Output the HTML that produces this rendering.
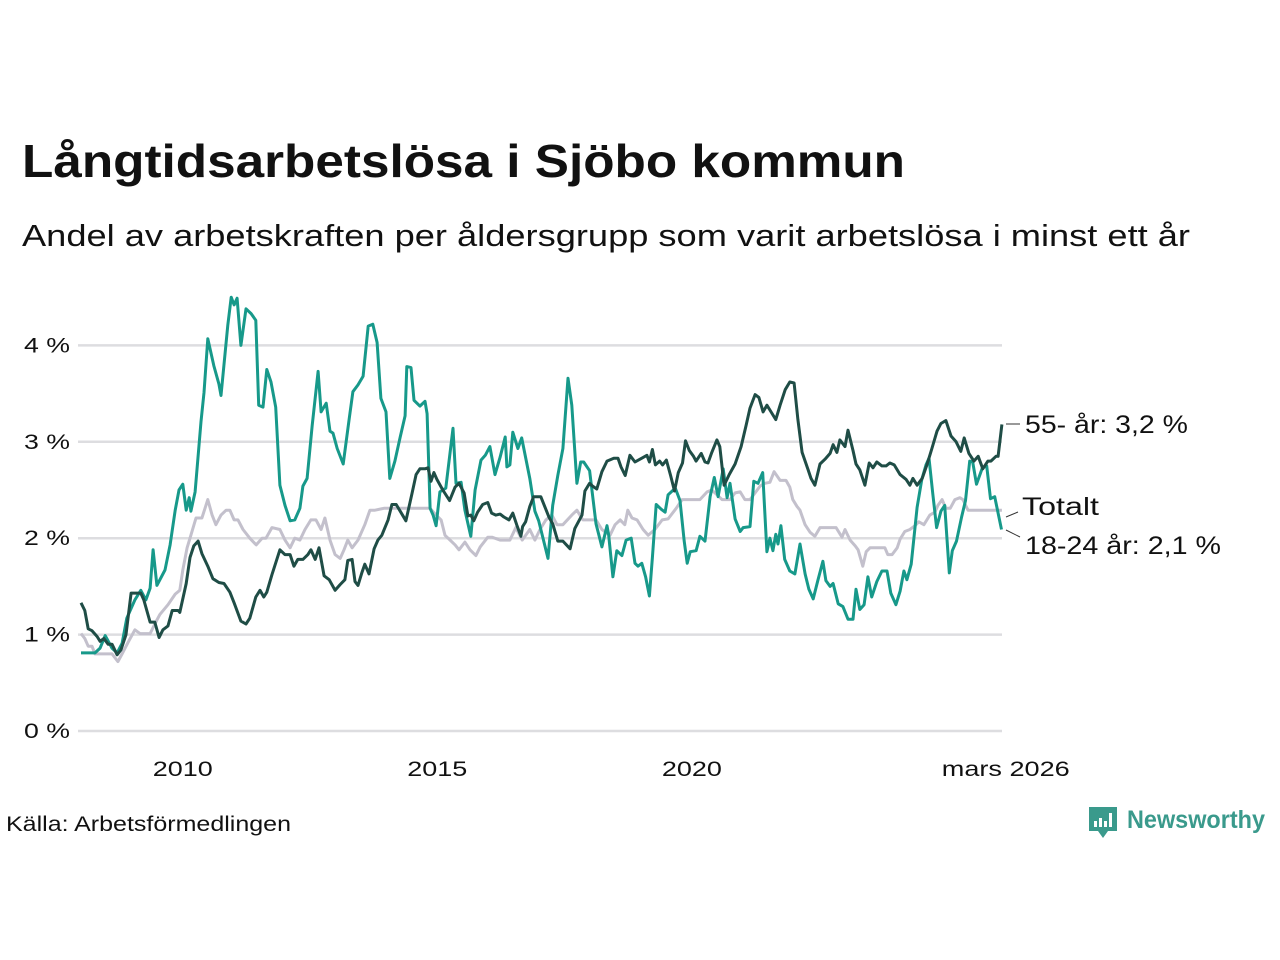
<!DOCTYPE html>
<html><head><meta charset="utf-8">
<style>
body{margin:0;background:#fff;width:1280px;height:960px;overflow:hidden;font-family:"Liberation Sans",sans-serif;}
svg{display:block}
</style></head>
<body>
<svg id="chart" width="1280" height="960" xmlns="http://www.w3.org/2000/svg">
<text x="22" y="177" font-size="46" font-weight="bold" fill="#111" textLength="883" lengthAdjust="spacingAndGlyphs">Långtidsarbetslösa i Sjöbo kommun</text>
<text x="22" y="246" font-size="31" fill="#111" textLength="1168" lengthAdjust="spacingAndGlyphs">Andel av arbetskraften per åldersgrupp som varit arbetslösa i minst ett år</text>
<g id="grid"></g>
<g id="ylabels"></g>
<g id="xlabels"></g>
<g id="lines"></g>
<g font-size="25" fill="#111">
<line x1="1006" y1="424" x2="1020" y2="424" stroke="#333" stroke-width="1"/>
<text x="1025" y="433" textLength="163" lengthAdjust="spacingAndGlyphs">55- år: 3,2 %</text>
<line x1="1006" y1="517" x2="1018" y2="512" stroke="#333" stroke-width="1"/>
<text x="1022" y="515" textLength="77" lengthAdjust="spacingAndGlyphs">Totalt</text>
<line x1="1006" y1="530" x2="1020" y2="537" stroke="#333" stroke-width="1"/>
<text x="1025" y="554" textLength="196" lengthAdjust="spacingAndGlyphs">18-24 år: 2,1 %</text>
</g>
<text x="6" y="831" font-size="21" fill="#111" textLength="285" lengthAdjust="spacingAndGlyphs">Källa: Arbetsförmedlingen</text>
<g>
<path d="M1089 807 h28 v24 h-9 l-5 7 l-5 -7 h-9 z" fill="#3a9a8c"/>
<rect x="1094" y="821" width="3" height="6" fill="#fff"/><rect x="1099" y="818" width="3" height="9" fill="#fff"/><rect x="1104" y="821" width="3" height="6" fill="#fff"/><rect x="1109" y="813" width="3" height="14" fill="#fff"/>
<text x="1127" y="828" font-size="25" font-weight="bold" fill="#3a9a8c" textLength="138" lengthAdjust="spacingAndGlyphs">Newsworthy</text>
</g>
</svg>
<script>
// months since Jan 2008, values in %
const youngMonths=[0,3.3,4.5,5.7,7.3,8.5,9.7,10.8,12.7,14.1,15.3,16.3,17.0,17.9,19.8,21.0,22.2,23.1,24.0,24.8,25.5,25.9,26.9,27.1,28.3,29.0,29.9,31.3,32.5,33.0,34.6,35.4,36.1,36.8,37.7,38.9,40.1,41.2,41.9,42.9,43.8,44.8,45.9,46.9,48.1,49.3,50.4,51.6,52.3,53.3,54.5,55.9,56.6,57.8,58.7,59.4,60.4,61.8,63.2,64.1,65.3,66.5,67.7,68.8,69.8,70.7,71.9,72.8,74.0,75.2,76.4,76.8,77.8,78.5,79.9,81.1,81.6,82.3,83.0,83.7,84.6,86.0,87.7,88.4,89.6,90.5,91.9,92.9,94.3,95.3,96.4,97.6,98.8,100.0,100.4,101.1,101.8,103.0,103.9,105.8,107.0,107.9,110.1,111.2,112.4,113.6,114.8,115.7,116.9,117.8,118.5,119.9,121.4,122.8,124.0,124.4,125.4,126.3,127.5,128.5,129.7,130.6,131.3,132.2,133.1,134.0,134.7,135.6,136.8,137.7,138.4,140.1,141.2,142.2,142.9,143.6,145.0,145.9,147.1,148.3,149.3,150.2,151.4,152.3,153.0,154.2,155.4,156.1,157.7,158.6,159.6,160.7,161.7,162.4,163.1,163.8,164.3,165.0,165.9,167.1,168.3,169.5,170.7,171.6,172.6,173.7,174.9,175.6,176.6,177.3,178.5,179.6,180.8,182.0,182.7,183.6,184.6,185.5,186.4,187.6,188.8,190.0,190.9,192.1,193.1,194.0,194.7,195.7,197.1,198.2,199.2,199.9,200.8,201.7,202.7,203.6,204.7,205.4,206.4,207.6,208.5,209.5,210.2,211.1,212.5,213.5,214.4,215.4,217.0];
const youngValues=[0.81,0.81,0.86,0.99,0.86,0.81,0.91,1.17,1.36,1.46,1.36,1.48,1.88,1.51,1.67,1.93,2.29,2.50,2.56,2.29,2.42,2.28,2.48,2.59,3.21,3.51,4.07,3.79,3.60,3.48,4.21,4.50,4.42,4.49,4.00,4.38,4.33,4.26,3.38,3.36,3.75,3.62,3.36,2.55,2.34,2.18,2.19,2.31,2.54,2.62,3.17,3.73,3.31,3.40,3.11,3.09,2.93,2.77,3.23,3.52,3.59,3.68,4.20,4.22,4.03,3.45,3.31,2.62,2.80,3.04,3.27,3.78,3.77,3.43,3.37,3.42,3.29,2.31,2.24,2.13,2.48,2.52,3.14,2.57,2.58,2.29,2.02,2.50,2.81,2.86,2.95,2.66,2.84,3.05,2.74,2.76,3.10,2.93,3.04,2.62,2.28,2.18,1.79,2.34,2.65,2.93,3.66,3.38,2.57,2.79,2.79,2.70,2.15,1.91,2.13,2.03,1.60,1.87,1.82,1.98,2.00,1.74,1.71,1.74,1.60,1.40,1.80,2.35,2.30,2.27,2.45,2.52,2.39,1.97,1.74,1.86,1.87,2.02,1.97,2.43,2.63,2.43,2.72,2.42,2.57,2.20,2.07,2.11,2.12,2.59,2.57,2.68,1.86,2.00,1.87,2.04,1.94,2.13,1.78,1.66,1.63,1.94,1.63,1.47,1.37,1.56,1.76,1.56,1.50,1.53,1.32,1.29,1.16,1.16,1.47,1.26,1.31,1.60,1.39,1.55,1.66,1.66,1.43,1.31,1.45,1.66,1.57,1.73,2.32,2.61,2.76,2.83,2.46,2.11,2.28,2.34,1.64,1.87,1.97,2.22,2.39,2.80,2.79,2.56,2.73,2.75,2.41,2.43,2.09];
const oldMonths=[0,0.9,1.7,2.6,3.8,4.5,5.4,6.4,7.3,8.5,9.4,10.6,11.8,12.7,14.1,14.8,16.3,17.4,18.4,19.3,20.5,21.5,22.9,23.3,24.8,25.7,26.6,27.6,28.5,29.9,31.1,32.5,33.7,35.1,36.1,37.7,38.9,39.8,41.2,42.2,43.1,43.8,45.0,46.9,48.1,49.3,50.2,51.1,52.3,53.5,54.2,55.2,56.1,57.3,58.5,59.9,61.1,62.2,62.9,63.9,64.6,65.3,66.2,66.9,67.9,69.1,70.0,70.9,72.4,73.3,74.3,75.4,76.6,78.0,79.0,79.9,81.1,81.8,82.5,83.2,83.9,85.3,86.9,88.2,89.1,90.3,91.2,91.9,92.6,93.5,94.7,95.9,96.8,97.8,98.8,99.7,100.9,101.8,102.7,103.7,104.1,104.8,105.8,106.7,108.4,109.3,110.3,111.2,112.4,113.6,115.3,116.4,118.1,118.8,119.9,120.6,121.6,122.8,124.0,125.6,126.6,127.3,128.3,129.4,130.6,132.2,133.4,134.0,134.7,135.4,136.4,137.1,138.0,139.0,139.9,140.8,141.8,142.5,143.4,144.4,145.0,146.2,147.1,147.8,148.7,149.9,150.6,151.6,152.8,154.2,155.6,156.8,157.7,158.9,159.8,160.8,161.7,162.4,163.8,164.8,166.0,167.1,168.1,169.0,170.0,171.4,172.1,173.0,174.2,175.4,176.6,177.3,178.2,178.9,180.1,180.8,182.0,182.7,183.6,184.8,185.8,186.7,187.6,188.8,189.8,190.7,191.7,193.1,194.5,195.4,196.1,197.1,198.3,199.4,200.6,201.8,202.7,203.9,205.1,206.3,207.4,208.2,209.3,210.5,211.5,212.6,213.8,214.5,215.7,216.2,217.1];
const oldValues=[1.33,1.25,1.06,1.04,0.98,0.93,0.96,0.90,0.90,0.79,0.84,1.00,1.43,1.43,1.43,1.36,1.13,1.13,0.97,1.05,1.09,1.25,1.25,1.23,1.53,1.80,1.92,1.97,1.84,1.71,1.58,1.54,1.53,1.44,1.33,1.14,1.11,1.17,1.39,1.46,1.39,1.44,1.62,1.88,1.83,1.83,1.71,1.78,1.78,1.83,1.88,1.78,1.90,1.61,1.57,1.46,1.52,1.57,1.77,1.78,1.55,1.51,1.64,1.73,1.63,1.89,1.98,2.03,2.19,2.35,2.35,2.27,2.18,2.46,2.66,2.72,2.72,2.73,2.59,2.68,2.61,2.50,2.39,2.53,2.57,2.47,2.23,2.24,2.18,2.27,2.35,2.37,2.26,2.24,2.25,2.22,2.19,2.26,2.14,2.02,2.12,2.17,2.33,2.43,2.43,2.33,2.22,2.15,1.97,1.97,1.89,2.10,2.24,2.49,2.57,2.54,2.51,2.69,2.80,2.83,2.83,2.74,2.65,2.86,2.79,2.83,2.86,2.79,2.92,2.76,2.80,2.76,2.81,2.65,2.49,2.68,2.78,3.01,2.91,2.85,2.80,2.88,2.79,2.78,2.89,3.02,2.95,2.55,2.66,2.77,2.95,3.17,3.35,3.49,3.46,3.31,3.38,3.33,3.23,3.38,3.54,3.62,3.61,3.23,2.89,2.71,2.62,2.55,2.77,2.82,2.88,2.97,2.89,3.02,2.95,3.12,2.91,2.77,2.71,2.55,2.78,2.73,2.79,2.75,2.75,2.78,2.76,2.66,2.61,2.55,2.62,2.55,2.62,2.76,2.93,3.11,3.19,3.22,3.06,3.00,2.90,3.04,2.88,2.80,2.85,2.72,2.80,2.80,2.85,2.85,3.18];
const totalMonths=[0,0.9,1.7,2.6,3.3,7.3,8.7,9.7,11.1,12.7,13.9,16.3,17.4,18.6,20.5,22.2,23.3,24.0,25.0,25.7,27.1,28.5,29.9,30.9,31.8,33.0,34.2,35.1,36.1,37.0,38.2,39.8,41.3,42.7,43.6,45.0,46.9,48.1,49.3,50.4,51.6,52.8,54.2,55.4,56.6,57.5,58.7,59.9,61.1,62.0,62.9,63.9,65.3,66.9,68.1,69.3,71.4,82.3,83.7,84.9,85.8,87.0,88.2,89.1,90.5,91.7,93.1,94.1,95.9,96.9,98.8,101.1,102.5,104.0,105.8,107.0,108.2,109.6,111.0,112.2,113.6,115.7,116.9,118.3,121.4,122.8,124.7,125.9,127.1,128.2,128.9,129.9,131.1,132.5,133.7,135.3,137.0,138.4,140.3,141.7,145.9,147.6,148.7,150.2,151.1,153.0,154.2,155.4,156.5,157.7,158.9,160.1,161.2,162.4,163.4,164.8,166.2,167.1,167.8,168.8,169.5,170.7,171.9,173.0,174.2,178.0,179.4,180.1,181.3,182.5,183.2,184.3,185.1,186.0,189.5,190.2,191.2,192.4,193.1,194.2,195.4,196.6,197.5,198.7,200.1,201.3,202.0,203.0,203.9,204.9,206.0,207.2,207.9,209.1,217.1];
const totalValues=[1.01,0.96,0.88,0.88,0.80,0.80,0.72,0.80,0.92,1.05,1.01,1.01,1.11,1.21,1.31,1.42,1.46,1.67,1.90,2.00,2.21,2.21,2.40,2.24,2.14,2.24,2.29,2.29,2.19,2.19,2.09,2.00,1.93,2.00,2.00,2.11,2.09,1.98,1.90,2.00,1.98,2.09,2.19,2.19,2.09,2.21,1.98,1.83,1.79,1.88,1.98,1.90,1.98,2.14,2.29,2.29,2.31,2.31,2.24,2.19,2.03,1.98,1.93,1.88,1.96,1.88,1.82,1.91,2.01,2.01,1.98,1.98,2.11,1.98,2.09,1.98,2.09,2.19,2.24,2.14,2.14,2.24,2.29,2.19,2.19,2.09,2.03,2.14,2.19,2.14,2.29,2.21,2.19,2.09,2.03,2.09,2.19,2.20,2.31,2.40,2.40,2.48,2.50,2.44,2.40,2.40,2.47,2.48,2.40,2.40,2.47,2.54,2.57,2.58,2.69,2.60,2.60,2.53,2.40,2.33,2.29,2.14,2.06,2.02,2.11,2.11,2.01,2.09,1.98,1.92,1.88,1.71,1.86,1.90,1.90,1.83,1.83,1.90,1.99,2.07,2.09,2.13,2.17,2.14,2.24,2.27,2.34,2.40,2.31,2.31,2.40,2.42,2.40,2.29,2.29];
const yTicks=[0,1,2,3,4];
const yTickLabels=["0 %","1 %","2 %","3 %","4 %"];
const xTickMonths=[24,84,144,218];
const xTickLabels=["2010","2015","2020","mars 2026"];
const xTickWidths=[60,60,60,128];

const NS="http://www.w3.org/2000/svg";
const xScale=m=>81+m*4.242;
const yScale=v=>731-v*96.4;
const grid=document.getElementById('grid'),yl=document.getElementById('ylabels'),xl=document.getElementById('xlabels'),lines=document.getElementById('lines');
yTicks.forEach((t,i)=>{
  const l=document.createElementNS(NS,'line');
  l.setAttribute('x1',78);l.setAttribute('x2',1002);
  l.setAttribute('y1',yScale(t));l.setAttribute('y2',yScale(t));
  l.setAttribute('stroke','#dddde0');l.setAttribute('stroke-width','2.5');
  
  
  grid.appendChild(l);
  const tx=document.createElementNS(NS,'text');
  tx.setAttribute('x',70);tx.setAttribute('y',yScale(t)+7);
  tx.setAttribute('text-anchor','end');tx.setAttribute('font-size','21');tx.setAttribute('fill','#111');
  tx.setAttribute('textLength','46');tx.setAttribute('lengthAdjust','spacingAndGlyphs');
  tx.textContent=yTickLabels[i];
  
  
  yl.appendChild(tx);
});
xTickMonths.forEach((m,i)=>{
  const tx=document.createElementNS(NS,'text');
  tx.setAttribute('x',xScale(m));tx.setAttribute('y',776);
  tx.setAttribute('text-anchor','middle');tx.setAttribute('font-size','21');tx.setAttribute('fill','#111');
  tx.setAttribute('textLength',xTickWidths[i]);tx.setAttribute('lengthAdjust','spacingAndGlyphs');
  tx.textContent=xTickLabels[i];
  
  
  xl.appendChild(tx);
});
function draw(ms,vs,color,name){
  const p=document.createElementNS(NS,'polyline');
  p.setAttribute('points',ms.map((m,i)=>xScale(m).toFixed(1)+','+yScale(vs[i]).toFixed(1)).join(' '));
  p.setAttribute('fill','none');p.setAttribute('stroke',color);p.setAttribute('stroke-width','3');
  p.setAttribute('stroke-linejoin','round');
  
  
  lines.appendChild(p);
}
draw(totalMonths,totalValues,'#c3c0cc','line-total');
draw(youngMonths,youngValues,'#17998a','line-18-24');
draw(oldMonths,oldValues,'#1f4d46','line-55');
</script>
</body></html>
